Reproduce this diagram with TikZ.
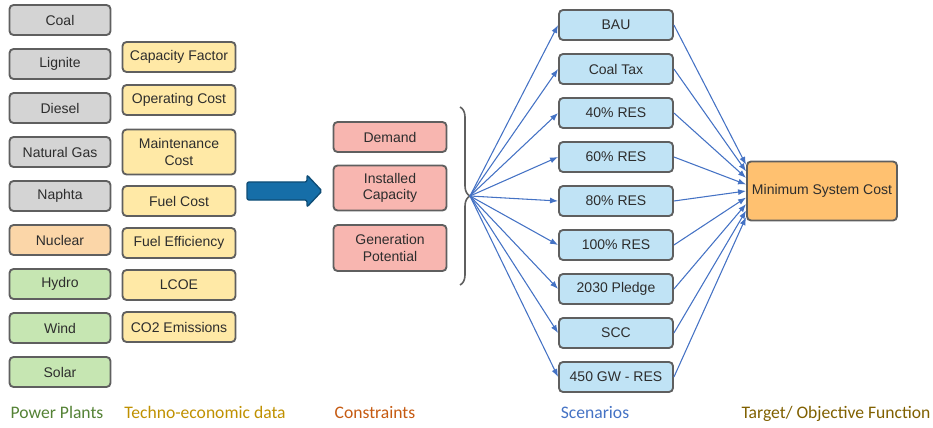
\documentclass[tikz,border=0pt]{standalone}
\usepackage{fontspec}
\setmainfont{Liberation Sans}
\newfontfamily\calibri{Carlito}
\usepackage{tikz}
\usetikzlibrary{arrows.meta,decorations.pathreplacing}
\definecolor{box_border}{RGB}{95,95,95}
\definecolor{box_text}{RGB}{45,45,45}
\definecolor{plant_gray}{RGB}{212,212,212}
\definecolor{nuclear_peach}{RGB}{251,214,168}
\definecolor{renew_green}{RGB}{198,230,178}
\definecolor{data_yellow}{RGB}{255,233,166}
\definecolor{limit_pink}{RGB}{248,182,176}
\definecolor{case_blue}{RGB}{192,227,245}
\definecolor{goal_orange}{RGB}{255,193,112}
\definecolor{flow_blue}{RGB}{68,114,196}
\definecolor{arrow_blue}{RGB}{22,110,168}
\definecolor{green_txt}{RGB}{84,130,53}
\definecolor{gold_txt}{RGB}{191,144,0}
\definecolor{red_txt}{RGB}{197,90,17}
\definecolor{brown_txt}{RGB}{128,96,0}

\begin{document}
\begin{tikzpicture}[x=0.75pt,y=-0.75pt,
	box/.style={rectangle,rounded corners=3pt,draw=box_border,line width=1.4pt,text=box_text,
		minimum height=22.5pt,inner sep=1pt,align=center,font=\fontsize{10.5}{12.5}\selectfont},
	plant/.style={box,minimum width=75.75pt},
	datum/.style={box,minimum width=84.75pt,fill=data_yellow},
	limit/.style={box,minimum width=84.75pt,fill=limit_pink},
	case/.style={box,minimum width=85.5pt,fill=case_blue},
	flow/.style={flow_blue,line width=0.8pt,-{Latex[length=6pt,width=4.5pt]}},
	caption/.style={anchor=base,font=\calibri\fontsize{13.2}{15}\selectfont}]
	\useasboundingbox (0,0) rectangle (933,428);

	% power plants
	\node[plant,fill=plant_gray] (coal) at (60,20) {Coal};
	\node[plant,fill=plant_gray] (lignite) at (60,64) {Lignite};
	\node[plant,fill=plant_gray] (diesel) at (60,108) {Diesel};
	\node[plant,fill=plant_gray] (gas) at (60,152) {Natural Gas};
	\node[plant,fill=plant_gray] (naphta) at (60,196) {Naphta};
	\node[plant,fill=nuclear_peach] (nuclear) at (60,240) {Nuclear};
	\node[plant,fill=renew_green] (hydro) at (60,284) {Hydro};
	\node[plant,fill=renew_green] (wind) at (60,328) {Wind};
	\node[plant,fill=renew_green] (solar) at (60,372) {Solar};

	% techno-economic data
	\node[datum] (capfac) at (179,57) {Capacity Factor};
	\node[datum] (opcost) at (179,100) {Operating Cost};
	\node[datum,minimum height=33.75pt] (maint) at (179,152) {Maintenance\\Cost};
	\node[datum] (fuelcost) at (179,201) {Fuel Cost};
	\node[datum] (fueleff) at (179,243) {Fuel Efficiency};
	\node[datum] (lcoe) at (179,285) {LCOE};
	\node[datum] (co2) at (179,327) {CO2 Emissions};

	% big arrow
	\draw[arrow_blue!70!black,fill=arrow_blue,line width=1pt,rounded corners=1.5pt]
		(247,182) -- (307,182) -- (307,175) -- (322,191) -- (307,207) -- (307,200) -- (247,200) -- cycle;

	% constraints
	\node[limit] (demand) at (390,137) {Demand};
	\node[limit,minimum height=33.75pt] (instcap) at (390,188) {Installed\\Capacity};
	\node[limit,minimum height=34.5pt] (genpot) at (390,248) {Generation\\Potential};

	\draw[box_border,line width=1.2pt,decorate,decoration={brace,amplitude=7.5pt}] (460,107) -- (460,285);
	\coordinate (tip) at (470,196);

	% scenarios
	\node[case] (bau) at (616,25) {BAU};
	\node[case] (coaltax) at (616,69) {Coal Tax};
	\node[case] (res40) at (616,113) {40\% RES};
	\node[case] (res60) at (616,157) {60\% RES};
	\node[case] (res80) at (616,201) {80\% RES};
	\node[case] (res100) at (616,245) {100\% RES};
	\node[case] (pledge) at (616,289) {2030 Pledge};
	\node[case] (scc) at (616,333) {SCC};
	\node[case] (gw450) at (616,377) {450 GW - RES};

	\node[box,fill=goal_orange,minimum width=112.5pt,minimum height=44.25pt] (target) at (822,191) {Minimum System Cost};

	\foreach \s [count=\k from 0] in {bau,coaltax,res40,res60,res80,res100,pledge,scc,gw450} {
		\draw[flow] (tip) -- (\s.west);
		\draw[flow] (\s.east) -- ([yshift={(4-\k)*4.9pt}]target.west);
	}

	% captions
	\node[caption,text=green_txt] (lblplants) at (57,418) {Power Plants};
	\node[caption,text=gold_txt] (lbldata) at (205,418) {Techno-economic data};
	\node[caption,text=red_txt] (lbllimits) at (375,418) {Constraints};
	\node[caption,text=flow_blue] (lblcases) at (595,418) {Scenarios};
	\node[caption,text=brown_txt] (lbltarget) at (836,418) {Target/ Objective Function};
\end{tikzpicture}
\end{document}
